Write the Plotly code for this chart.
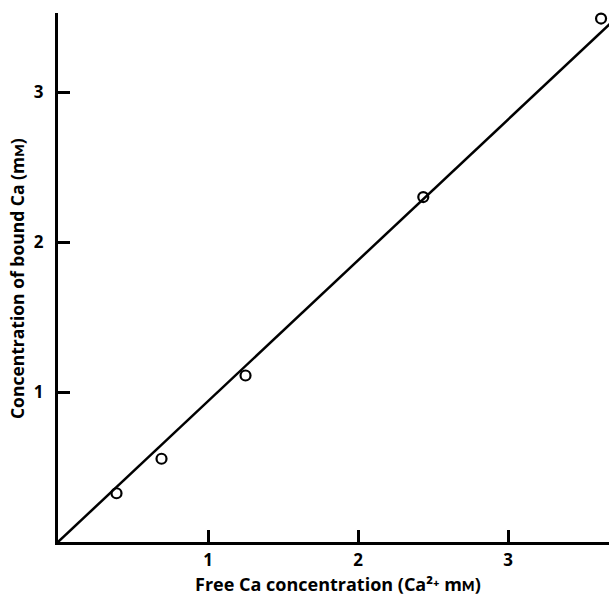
import plotly.graph_objects as go

free_ca = [0.39, 0.69, 1.25, 2.435, 3.62]
bound_ca = [0.325, 0.555, 1.11, 2.30, 3.49]
fit_x = [0, 3.7]
fit_y = [0, 3.474]
x_ticks = [1, 2, 3]
y_ticks = [1, 2, 3]
x_title = "Free Ca concentration (Ca²⁺ mᴍ)"
y_title = "Concentration of bound Ca (mᴍ)"

font_family = "'Open Sans', Lato, sans-serif"

fig = go.Figure()
fig.add_trace(go.Scatter(x=fit_x, y=fit_y, mode="lines",
                         line=dict(color="black", width=2.5),
                         showlegend=False))
fig.add_trace(go.Scatter(x=free_ca, y=bound_ca, mode="markers",
                         marker=dict(symbol="circle-open", size=10,
                                     color="black", line=dict(width=2.2, color="black")),
                         cliponaxis=False, showlegend=False))

fig.add_annotation(text=x_title, xref="paper", yref="paper", x=0.509, y=-0.0795,
                   showarrow=False, xanchor="center", yanchor="middle",
                   font=dict(size=18, family=font_family, weight="bold", color="black"))
fig.add_annotation(text=y_title, xref="paper", yref="paper", x=-0.0744, y=0.497,
                   showarrow=False, xanchor="center", yanchor="middle", textangle=-90,
                   font=dict(size=17.5, family=font_family, weight="bold", color="black"))

fig.update_layout(
    width=609, height=597,
    margin=dict(l=58, r=0, t=13, b=55),
    paper_bgcolor="white", plot_bgcolor="white",
    font=dict(family=font_family, color="black"),
    xaxis=dict(range=[0, 3.673], tickvals=x_ticks, ticktext=[str(v) for v in x_ticks],
               ticks="inside", ticklen=12, tickwidth=2.5, tickcolor="black",
               showline=True, linecolor="black", linewidth=3,
               showgrid=False, zeroline=False, automargin=False,
               ticklabelstandoff=1,
               tickfont=dict(size=17, family=font_family, weight="bold")),
    yaxis=dict(range=[0, 3.527], tickvals=y_ticks, ticktext=[str(v) for v in y_ticks],
               ticks="inside", ticklen=12, tickwidth=2.5, tickcolor="black",
               showline=True, linecolor="black", linewidth=3,
               showgrid=False, zeroline=False, automargin=False,
               ticklabelstandoff=8,
               tickfont=dict(size=17, family=font_family, weight="bold")),
)

fig.write_html("out.html", config={"displayModeBar": False},
               post_script="document.body.style.margin='0px';document.body.style.overflow='hidden';")
